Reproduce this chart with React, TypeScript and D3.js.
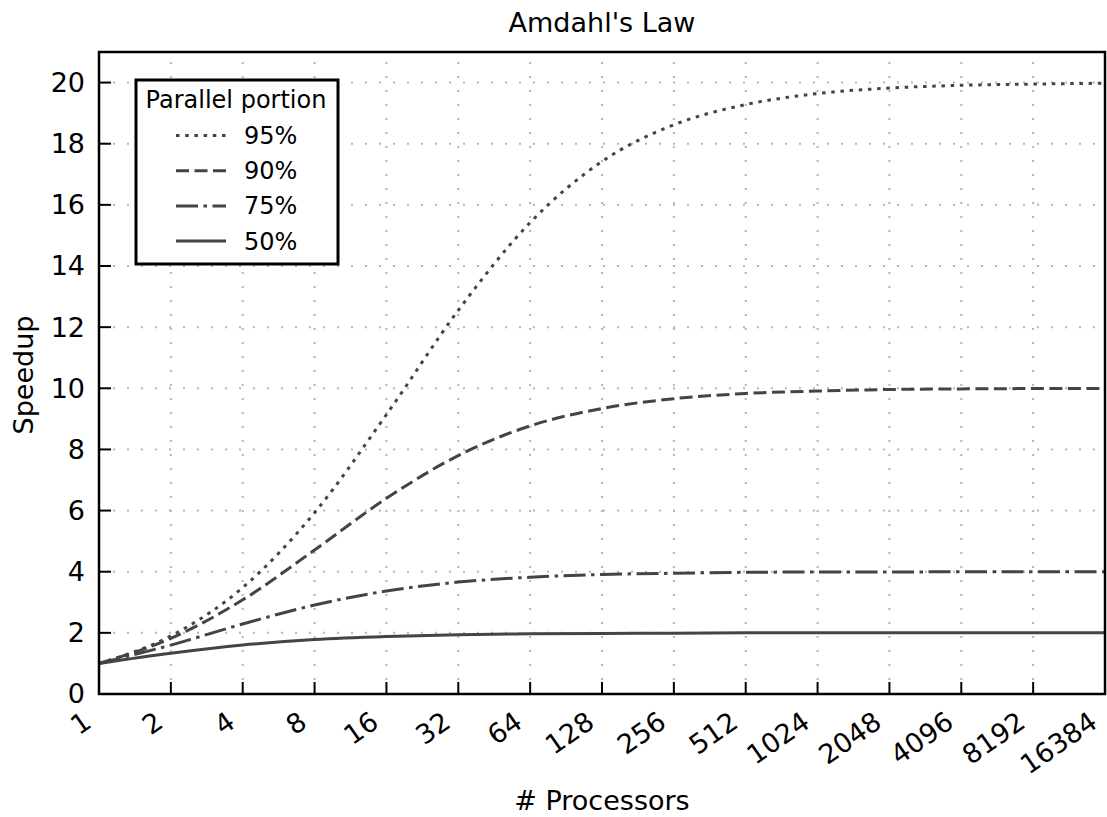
import React from "react";
import * as d3 from "d3";

// Processor counts (log2 axis) and measured speedup per parallel portion
const processors = [1, 2, 4, 8, 16, 32, 64, 128, 256, 512, 1024, 2048, 4096, 8192, 16384];
const speedup95 = [1, 1.9, 3.48, 5.93, 9.14, 12.55, 15.42, 17.42, 18.62, 19.28, 19.64, 19.82, 19.91, 19.95, 19.98];
const speedup90 = [1, 1.82, 3.08, 4.71, 6.4, 7.8, 8.77, 9.34, 9.66, 9.83, 9.91, 9.96, 9.98, 9.99, 9.99];
const speedup75 = [1, 1.6, 2.29, 2.91, 3.37, 3.66, 3.82, 3.91, 3.95, 3.98, 3.99, 3.99, 4.0, 4.0, 4.0];
const speedup50 = [1, 1.33, 1.6, 1.78, 1.88, 1.94, 1.97, 1.98, 1.99, 2.0, 2.0, 2.0, 2.0, 2.0, 2.0];
const seriesLabels = ["95%", "90%", "75%", "50%"];
const yTicks = [0, 2, 4, 6, 8, 10, 12, 14, 16, 18, 20];

const W = 1107;
const H = 817;
const left = 99;
const right = 1105;
const top = 52;
const bottom = 694;
const FONT = "DejaVu Sans, sans-serif";
const LINE = "#444444";

const dashes = ["3.5,5.7", "13,5.5", "22,5.5,3.5,5.5", "none"];
const seriesValues = [speedup95, speedup90, speedup75, speedup50];

export default function App() {
  const x = d3.scaleLog().base(2).domain([1, 16384]).range([left, right]);
  const y = d3.scaleLinear().domain([0, 21]).range([bottom, top]);

  const line = d3
    .line<number>()
    .x((_, i) => x(processors[i]))
    .y((d) => y(d))
    .curve(d3.curveMonotoneX);

  return (
    <svg width={W} height={H} style={{ position: "absolute", left: 0, top: 0, background: "#fff" }}>
      <rect x={0} y={0} width={W} height={H} fill="#fff" />
      {/* grid */}
      <g stroke="#b5b5b5" strokeWidth={2} strokeDasharray="2,12">
        {processors.slice(1, -1).map((p) => (
          <line key={"gx" + p} x1={x(p)} x2={x(p)} y1={bottom} y2={top} />
        ))}
        {yTicks.slice(1).map((t) => (
          <line key={"gy" + t} x1={left} x2={right} y1={y(t)} y2={y(t)} />
        ))}
      </g>

      {/* curves */}
      <g fill="none" stroke={LINE} strokeWidth={3}>
        {seriesValues.map((vals, i) => (
          <path key={i} d={line(vals) || ""} strokeDasharray={dashes[i]} />
        ))}
      </g>

      {/* ticks (inward) */}
      <g stroke="#000" strokeWidth={2}>
        {processors.slice(1, -1).map((p) => (
          <line key={"tx" + p} x1={x(p)} x2={x(p)} y1={bottom} y2={bottom - 12} />
        ))}
        {yTicks.slice(1).map((t) => (
          <line key={"ty" + t} x1={left} x2={left + 12} y1={y(t)} y2={y(t)} />
        ))}
      </g>

      {/* frame */}
      <rect x={left} y={top} width={right - left} height={bottom - top} fill="none" stroke="#000" strokeWidth={2.5} />

      {/* tick labels */}
      <g fontFamily={FONT} fontSize={27} fill="#000">
        {yTicks.map((t) => (
          <text key={"ly" + t} x={left - 14} y={y(t)} dy="0.35em" textAnchor="end">
            {t}
          </text>
        ))}
        {processors.map((p) => (
          <text key={"lx" + p} textAnchor="end" transform={`translate(${x(p) - 6},${bottom + 32}) rotate(-35)`}>
            {p}
          </text>
        ))}
      </g>

      {/* titles */}
      <text x={(left + right) / 2} y={32} textAnchor="middle" fontFamily={FONT} fontSize={27}>
        Amdahl's Law
      </text>
      <text x={(left + right) / 2} y={810} textAnchor="middle" fontFamily={FONT} fontSize={27}>
        # Processors
      </text>
      <text
        transform={`translate(33,${(top + bottom) / 2 + 2}) rotate(-90)`}
        textAnchor="middle"
        fontFamily={FONT}
        fontSize={27}
      >
        Speedup
      </text>

      {/* legend */}
      <g>
        <rect x={136} y={80} width={202} height={184} fill="#fff" stroke="#000" strokeWidth={3} />
        <text x={236} y={108} textAnchor="middle" fontFamily={FONT} fontSize={24}>
          Parallel portion
        </text>
        {seriesLabels.map((lab, i) => {
          const ly = 135.5 + i * 35.2;
          return (
            <g key={lab}>
              <line x1={176} x2={226} y1={ly} y2={ly} stroke={LINE} strokeWidth={3} strokeDasharray={dashes[i]} />
              <text x={244} y={ly} dy="0.35em" fontFamily={FONT} fontSize={24}>
                {lab}
              </text>
            </g>
          );
        })}
      </g>
    </svg>
  );
}
